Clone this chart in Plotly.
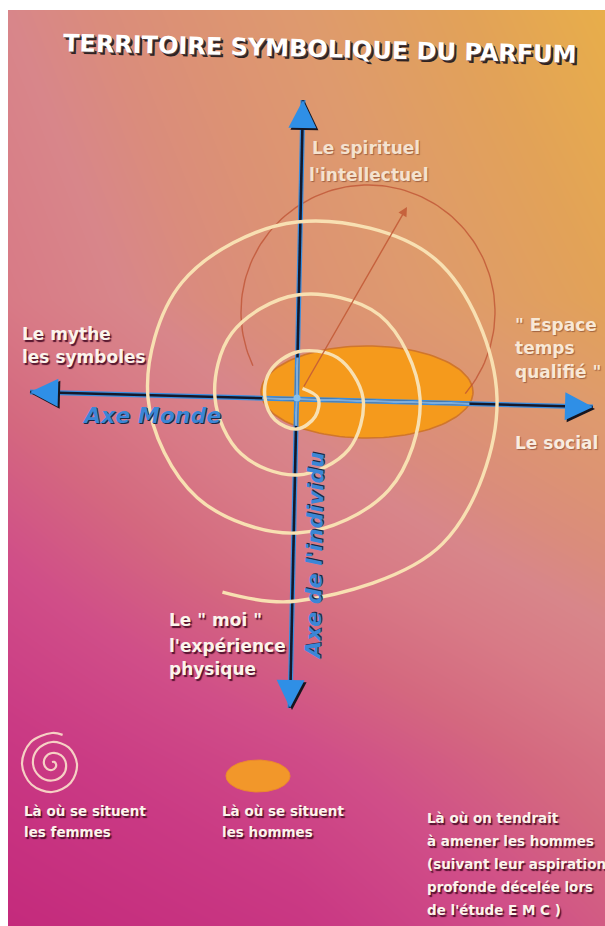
import numpy as np
import plotly.graph_objects as go

W, H = 605, 926

# ---------------- background colour nodes (pixel grid) ----------------
BG_X = [8, 300, 605]
BG_Y = [10, 300, 560, 760, 926]
BG_Z = [[0.42, 0.22, 0.00],
        [0.50, 0.30, 0.10],
        [0.72, 0.52, 0.36],
        [0.88, 0.74, 0.55],
        [1.00, 0.88, 0.66]]
BG_SCALE = [[0.00, '#e8ae4a'], [0.10, '#e2a258'], [0.22, '#de9a6e'], [0.30, '#dc9274'],
            [0.36, '#da8c7c'], [0.42, '#d8868a'], [0.50, '#d87a86'], [0.60, '#d4687f'],
            [0.72, '#d04e88'], [0.85, '#ca3a84'], [1.00, '#c42a7c']]

# ---------------- main spiral (where women are) ----------------
SPIRAL_CX, SPIRAL_CY = 297, 398
SPIRAL_ANGLE = [60, 0, -45, -90, -135, -180, -225, -270, -315, -360, -405, -450, -495, -540,
                -585, -630, -675, -720, -765, -810, -855, -900, -945, -990, -1035, -1080,
                -1125, -1170, -1191]
SPIRAL_R = [11, 21, 26, 31, 31, 32, 38, 46, 57, 66, 73, 77, 79, 82,
            92, 103, 117, 123, 130, 135, 141, 149, 163, 176, 196, 200,
            206, 203, 208]

# legend spiral icon
ICON_CX, ICON_CY = 52, 764
ICON_ANGLE = [90, 45, 0, -45, -90, -135, -180, -225, -270, -315, -360, -405, -450, -495,
              -540, -585, -630, -675, -720, -765, -810, -855, -900, -945, -990, -1010]
ICON_R = [2, 3, 4, 5, 6, 7, 8, 9.5, 11, 12.5, 14, 15.5, 16.5, 17.5,
          19, 20.5, 22, 23.5, 25, 26.5, 28, 29, 30, 30.5, 31, 31]

# ---------------- men ellipse ----------------
ELL_CX, ELL_CY, ELL_A, ELL_B = 367, 392, 106, 46
ICON_ELL_CX, ICON_ELL_CY, ICON_ELL_A, ICON_ELL_B = 258, 776, 32, 16

# ---------------- target circle + arrow ----------------
RED_CX, RED_CY, RED_R = 368, 312, 127
RED_ARC = [205, -40]
RED_ARROW_FROM = (303, 388)
RED_ARROW_TO = (407, 207)

# ---------------- axes (tips) ----------------
AXIS_V_X = [303, 290]
AXIS_V_Y = [100, 708]
AXIS_H_X = [30, 593]
AXIS_H_Y = [392, 407]

fig = go.Figure()

# background
fig.add_trace(go.Heatmap(x=BG_X, y=BG_Y, z=BG_Z, colorscale=BG_SCALE, zmin=0, zmax=1,
                         zsmooth='best', showscale=False, hoverinfo='skip'))


def ellipse_pts(cx, cy, a, b, n=121):
    t = np.linspace(0, 2 * np.pi, n)
    return cx + a * np.cos(t), cy - b * np.sin(t)


# men ellipse
ex, ey = ellipse_pts(ELL_CX, ELL_CY, ELL_A, ELL_B)
fig.add_trace(go.Scatter(x=ex, y=ey, mode='lines', fill='toself', fillcolor='#f59a1c',
                         line=dict(color='#d0762c', width=1.6), hoverinfo='skip'))

# red target arc
ta = np.radians(np.linspace(RED_ARC[0], RED_ARC[1], 120))
fig.add_trace(go.Scatter(x=RED_CX + RED_R * np.cos(ta), y=RED_CY - RED_R * np.sin(ta),
                         mode='lines', line=dict(color='rgba(190,80,50,0.75)', width=1.4),
                         hoverinfo='skip'))


# axes
def axis_line(xs, ys, color, width):
    fig.add_trace(go.Scatter(x=xs, y=ys, mode='lines', line=dict(color=color, width=width),
                             hoverinfo='skip'))


for xs, ys in [(AXIS_V_X, AXIS_V_Y), (AXIS_H_X, AXIS_H_Y)]:
    axis_line(xs, ys, '#3a8ee0', 5)
    axis_line(xs, ys, '#15182a', 2.6)
    # segment inside the ellipse appears light blue
    t = np.linspace(0, 1, 2001)
    lx = xs[0] + (xs[1] - xs[0]) * t
    ly = ys[0] + (ys[1] - ys[0]) * t
    inside = ((lx - ELL_CX) / ELL_A) ** 2 + ((ly - ELL_CY) / ELL_B) ** 2 < 1
    idx = np.where(inside)[0]
    if len(idx):
        axis_line([lx[idx[0]], lx[idx[-1]]], [ly[idx[0]], ly[idx[-1]]], '#7eaedc', 2.6)

# centre dot
fig.add_trace(go.Scatter(x=[SPIRAL_CX], y=[SPIRAL_CY], mode='markers',
                         marker=dict(color='#86c0ec', size=7), hoverinfo='skip'))


# spirals
def spiral_xy(cx, cy, ang, rad):
    a = np.radians(np.array(ang, dtype=float))
    r = np.array(rad, dtype=float)
    return cx + r * np.cos(a), cy - r * np.sin(a)


sx, sy = spiral_xy(SPIRAL_CX, SPIRAL_CY, SPIRAL_ANGLE, SPIRAL_R)
fig.add_trace(go.Scatter(x=sx, y=sy, mode='lines',
                         line=dict(color='#f8e0b2', width=3.4, shape='spline', smoothing=1.0),
                         hoverinfo='skip'))

ix, iy = spiral_xy(ICON_CX, ICON_CY, ICON_ANGLE, ICON_R)
fig.add_trace(go.Scatter(x=ix, y=iy, mode='lines',
                         line=dict(color='#f6d0c4', width=2.2, shape='spline', smoothing=1.0),
                         hoverinfo='skip'))

# legend ellipse icon
qx, qy = ellipse_pts(ICON_ELL_CX, ICON_ELL_CY, ICON_ELL_A, ICON_ELL_B)
fig.add_trace(go.Scatter(x=qx, y=qy, mode='lines', fill='toself', fillcolor='#f2972a',
                         line=dict(color='#ec8a2c', width=1), hoverinfo='skip'))

# arrow heads (shadow then blue)
tilt_v = np.degrees(np.arctan2(AXIS_V_X[0] - AXIS_V_X[1], AXIS_V_Y[1] - AXIS_V_Y[0]))
tilt_h = np.degrees(np.arctan2(AXIS_H_Y[1] - AXIS_H_Y[0], AXIS_H_X[1] - AXIS_H_X[0]))
heads = [(AXIS_V_X[0], AXIS_V_Y[0], 'arrow-up', tilt_v),
         (AXIS_V_X[1], AXIS_V_Y[1], 'arrow-down', tilt_v),
         (AXIS_H_X[0], AXIS_H_Y[0], 'arrow-left', tilt_h),
         (AXIS_H_X[1], AXIS_H_Y[1], 'arrow-right', tilt_h)]
for hx, hy, sym, ang in heads:
    fig.add_trace(go.Scatter(x=[hx + 2], y=[hy + 2], mode='markers', hoverinfo='skip',
                             marker=dict(symbol=sym, size=28, angle=ang, color='#17151f',
                                         line=dict(width=0))))
for hx, hy, sym, ang in heads:
    fig.add_trace(go.Scatter(x=[hx], y=[hy], mode='markers', hoverinfo='skip',
                             marker=dict(symbol=sym, size=28, angle=ang, color='#2f8fe6',
                                         line=dict(width=0))))

# white frame strips (photo border)
fig.add_shape(type='rect', x0=0, x1=8, y0=0, y1=H, fillcolor='white', line_width=0, layer='above')
fig.add_shape(type='rect', x0=0, x1=W, y0=0, y1=10, fillcolor='white', line_width=0, layer='above')

# red arrow
fig.add_annotation(x=RED_ARROW_TO[0], y=RED_ARROW_TO[1], ax=RED_ARROW_FROM[0], ay=RED_ARROW_FROM[1],
                   axref='x', ayref='y', xref='x', yref='y', text='', showarrow=True,
                   arrowhead=2, arrowsize=1.3, arrowwidth=1.4, arrowcolor='rgba(196,92,56,0.9)')

SH_DARK = '1.5px 1.5px 1px rgba(70,10,35,0.9)'
SH_SOFT = '1px 1px 1px rgba(120,60,40,0.6)'


def label(text, x, y, size=17, color='#fbf4ec', shadow=SH_DARK, xanchor='left', angle=0,
          family='DejaVu Sans', style='normal'):
    fig.add_annotation(x=x, y=y, text=text, showarrow=False, xanchor=xanchor, yanchor='middle',
                       textangle=angle, xref='x', yref='y',
                       font=dict(family=family, size=size, color=color, weight='bold',
                                 style=style, shadow=shadow))


# title
label('TERRITOIRE SYMBOLIQUE DU PARFUM', 320, 49, size=24, color='#ffffff',
      shadow='1px 1px 0px #4a3a3a, 2.5px 2.5px 0px #2e2222', xanchor='center', angle=1.3)

# pole labels
label('Le spirituel', 310, 148, color='#f4e2cf', shadow=SH_SOFT)
label("l'intellectuel", 307, 175, color='#f4e2cf', shadow=SH_SOFT)
label('Le mythe', 20, 334)
label('les symboles', 20, 357)
label('" Espace', 513, 325, color='#f8e8d6', shadow=SH_SOFT)
label('temps', 513, 348, color='#f8e8d6', shadow=SH_SOFT)
label('qualifié "', 513, 372, color='#f8e8d6', shadow=SH_SOFT)
label('Le social', 513, 443, color='#f8ece0', shadow=SH_SOFT)
label('Le " moi "', 167, 620)
label("l'expérience", 167, 646)
label('physique', 167, 669)

# axis names
label('Axe Monde', 151, 415, size=22, color='#3b86d6', shadow='1px 1px 0px #1b2745',
      xanchor='center', style='italic')
label("Axe de l'individu", 314, 556, size=22, color='#3b86d6', shadow='1px 1px 0px #1b2745',
      xanchor='center', style='italic', angle=-89)

# legend texts
LEG = 13.5
label('Là où se situent', 22, 811, size=LEG)
label('les femmes', 22, 832, size=LEG)
label('Là où se situent', 220, 811, size=LEG)
label('les hommes', 220, 832, size=LEG)
for txt, yy in zip(['Là où on tendrait', 'à amener les hommes', '(suivant leur aspiration',
                    'profonde décelée lors', "de l'étude E M C )"],
                   [818, 841, 864, 887, 910]):
    label(txt, 425, yy, size=LEG)

fig.update_layout(width=W, height=H, margin=dict(l=0, r=0, t=0, b=0),
                  paper_bgcolor='white', plot_bgcolor='white', showlegend=False,
                  xaxis=dict(range=[0, W], visible=False, fixedrange=True),
                  yaxis=dict(range=[H, 0], visible=False, fixedrange=True))

fig.write_html('out.html', config={'displayModeBar': False},
               post_script="document.body.style.margin='0';document.body.style.overflow='hidden';")
